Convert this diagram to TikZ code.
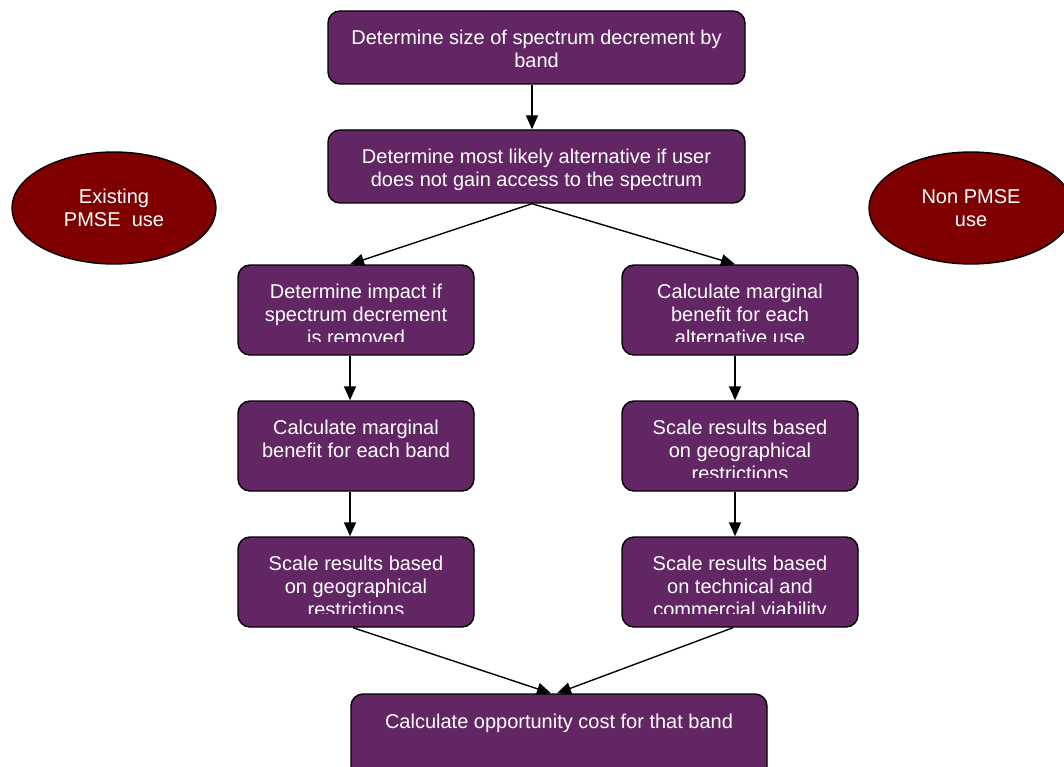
\documentclass[tikz,border=0pt]{standalone}
\usepackage{fontspec}
\setmainfont{Liberation Sans}
\usetikzlibrary{arrows.meta,shapes.geometric}
\definecolor{boxpurple}{HTML}{632664}
\definecolor{ovalred}{HTML}{7F0000}

\tikzset{
  stepbox/.style={draw=black, line width=1.4pt, fill=boxpurple, rounded corners=12pt,
    minimum width=236pt, minimum height=90pt, inner sep=0pt},
  widebox/.style={stepbox, minimum width=417pt, minimum height=73pt},
  oval/.style={ellipse, draw=black, line width=1.4pt, fill=ovalred, inner sep=0pt,
    minimum width=204pt, minimum height=112pt},
  boxlabel/.style={text=white, font=\fontsize{20}{23}\selectfont, align=center, inner sep=0pt},
  flow/.style={line width=1.4pt, -{Triangle[length=14pt,width=12pt]}},
}

% box text sits in a frame that stops short of the box's lower edge
\newcommand\boxtext[3]{%
  \begin{scope}
    \clip ([yshift=14pt]#1.south west) rectangle (#1.north east);
    \node[boxlabel, anchor=north] (#2) at ([yshift=-20pt]#1.north) {#3};
  \end{scope}}

\begin{document}
\begin{tikzpicture}[x=1pt,y=-1pt]
  \useasboundingbox (0,0) rectangle (1064,767);
  \clip (0,0) rectangle (1064,767);

  % side ovals
  \node[oval] (exist) at (114,208) {};
  \node[boxlabel] (existT) at (exist.center) {Existing\\PMSE\ \ use};
  \node[oval] (nonp) at (971,208) {};
  \node[boxlabel] (nonpT) at (nonp.center) {Non PMSE\\use};

  % main steps
  \node[widebox] (size) at (536.5,47.5) {};
  \boxtext{size}{sizeT}{Determine size of spectrum decrement by\\band}
  \node[widebox] (alt) at (536.5,166.5) {};
  \boxtext{alt}{altT}{Determine most likely alternative if user\\does not gain access to the spectrum}

  % left branch
  \node[stepbox] (impact) at (356,310) {};
  \boxtext{impact}{impactT}{Determine impact if\\spectrum decrement\\is removed}
  \node[stepbox] (margL) at (356,446) {};
  \boxtext{margL}{margLT}{Calculate marginal\\benefit for each band}
  \node[stepbox] (geoL) at (356,582) {};
  \boxtext{geoL}{geoLT}{Scale results based\\on geographical\\restrictions}

  % right branch
  \node[stepbox] (margR) at (740,310) {};
  \boxtext{margR}{margRT}{Calculate marginal\\benefit for each\\alternative use}
  \node[stepbox] (geoR) at (740,446) {};
  \boxtext{geoR}{geoRT}{Scale results based\\on geographical\\restrictions}
  \node[stepbox] (tech) at (740,582) {};
  \boxtext{tech}{techT}{Scale results based\\on technical and\\commercial viability}

  % result
  \node[stepbox, minimum width=416pt] (cost) at (559,739) {};
  \boxtext{cost}{costT}{Calculate opportunity cost for that band}

  % connectors
  \draw[flow] ([xshift=-4.5pt]size.south) -- ([xshift=-4.5pt]alt.north);
  \draw[flow] ([xshift=-4.5pt]alt.south) -- ([xshift=-6pt]impact.north);
  \draw[flow] ([xshift=-4.5pt]alt.south) -- ([xshift=-5pt]margR.north);
  \draw[flow] ([xshift=-6pt]impact.south) -- ([xshift=-6pt]margL.north);
  \draw[flow] ([xshift=-6pt]margL.south) -- ([xshift=-6pt]geoL.north);
  \draw[flow] ([xshift=-5pt]margR.south) -- ([xshift=-5pt]geoR.north);
  \draw[flow] ([xshift=-5pt]geoR.south) -- ([xshift=-5pt]tech.north);
  \draw[flow] ([xshift=-3pt]geoL.south) -- ([xshift=-8pt]cost.north);
  \draw[flow] ([xshift=-7pt]tech.south) -- ([xshift=-2pt]cost.north);
\end{tikzpicture}
\end{document}
